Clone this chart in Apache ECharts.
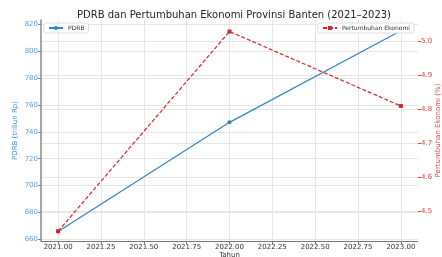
<!DOCTYPE html>
<html>
<head>
<meta charset="utf-8">
<script src="https://cdn.jsdelivr.net/npm/echarts@6/dist/echarts.min.js"></script>
<style>
  html, body { margin: 0; padding: 0; background: #fff; }
  #chart { width: 442px; height: 257px; }
</style>
</head>
<body>
<div id="chart"></div>
<script>
var years = [2021, 2022, 2023];
var pdrb = [666, 747, 815];
var growth = [4.44, 5.03, 4.81];
var xTicks = [2021, 2021.25, 2021.5, 2021.75, 2022, 2022.25, 2022.5, 2022.75, 2023];
var leftTicks = [660, 680, 700, 720, 740, 760, 780, 800, 820];
var rightTicks = [4.5, 4.6, 4.7, 4.8, 4.9, 5.0];

var myChart = echarts.init(document.getElementById('chart'));
var font = 'DejaVu Sans';
var gridColor = '#e6e6e6';

var option = {
  animation: false,
  title: {
    text: 'PDRB dan Pertumbuhan Ekonomi Provinsi Banten (2021–2023)',
    left: 229, top: 5, textAlign: 'center',
    textStyle: { fontFamily: font, fontSize: 10, fontWeight: 'normal', color: '#222' }
  },
  legend: [
    {
      data: ['PDRB'], left: 44, top: 23,
      itemWidth: 14, itemHeight: 5, padding: [2, 4], itemGap: 4,
      borderColor: '#ddd', borderWidth: 1, borderRadius: 2, backgroundColor: '#fff',
      textStyle: { fontFamily: font, fontSize: 6, color: '#333' }
    },
    {
      data: ['Pertumbuhan Ekonomi'], right: 28, top: 23,
      itemWidth: 14, itemHeight: 5, padding: [2, 4], itemGap: 4,
      borderColor: '#ddd', borderWidth: 1, borderRadius: 2, backgroundColor: '#fff',
      textStyle: { fontFamily: font, fontSize: 6, color: '#333' }
    }
  ],
  grid: { left: 41, right: 24, top: 20, bottom: 16, containLabel: false, outerBoundsMode: 'none' },
  xAxis: {
    type: 'value', min: 2020.9, max: 2023.1,
    name: 'Tahun', nameLocation: 'middle', nameGap: 11, nameMoveOverlap: false,
    nameTextStyle: { fontFamily: font, fontSize: 7, color: '#333' },
    axisLine: { show: true, lineStyle: { color: '#777', width: 1 } },
    axisTick: { show: true, length: 3, customValues: xTicks, lineStyle: { color: '#777' } },
    axisLabel: {
      customValues: xTicks, margin: 3,
      fontFamily: font, fontSize: 7, color: '#333',
      formatter: function (v) { return v.toFixed(2); }
    },
    splitLine: { show: true, lineStyle: { color: gridColor, width: 1 } }
  },
  yAxis: [
    {
      type: 'value', min: 658.9, max: 823,
      name: 'PDRB (triliun Rp)', nameLocation: 'middle', nameGap: 22, nameRotate: 90, nameMoveOverlap: false,
      nameTextStyle: { fontFamily: font, fontSize: 7, color: '#3a8fc7' },
      axisLine: { show: true, lineStyle: { color: '#888', width: 1.5 } },
      axisTick: { show: true, length: 3, customValues: leftTicks, lineStyle: { color: '#888' } },
      axisLabel: { customValues: leftTicks, margin: 3, fontFamily: font, fontSize: 7, color: '#5d9fd0' },
      splitLine: { show: true, lineStyle: { color: gridColor, width: 1 } }
    },
    {
      type: 'value', min: 4.411, max: 5.064, position: 'right',
      name: 'Pertumbuhan Ekonomi (%)', nameLocation: 'middle', nameGap: 17, nameRotate: 90, nameMoveOverlap: false,
      nameTextStyle: { fontFamily: font, fontSize: 7, color: '#d9454a' },
      axisLine: { show: false },
      axisTick: { show: true, length: 3, customValues: rightTicks, lineStyle: { color: '#d9454a' } },
      axisLabel: {
        customValues: rightTicks, margin: 3, fontFamily: font, fontSize: 7, color: '#d9454a',
        formatter: function (v) { return v.toFixed(1); }
      },
      splitLine: { show: true, lineStyle: { color: gridColor, width: 1 } }
    }
  ],
  series: [
    {
      name: 'PDRB', type: 'line', yAxisIndex: 0,
      data: years.map(function (y, i) { return [y, pdrb[i]]; }),
      symbol: 'circle', symbolSize: 4,
      lineStyle: { color: '#2f86c0', width: 1.2 },
      itemStyle: { color: '#2f86c0' }
    },
    {
      name: 'Pertumbuhan Ekonomi', type: 'line', yAxisIndex: 1,
      data: years.map(function (y, i) { return [y, growth[i]]; }),
      symbol: 'rect', symbolSize: 4,
      lineStyle: { color: '#d62728', width: 1.2, type: [4, 2] },
      itemStyle: { color: '#d62728' }
    }
  ]
};
myChart.setOption(option);
</script>
</body>
</html>
